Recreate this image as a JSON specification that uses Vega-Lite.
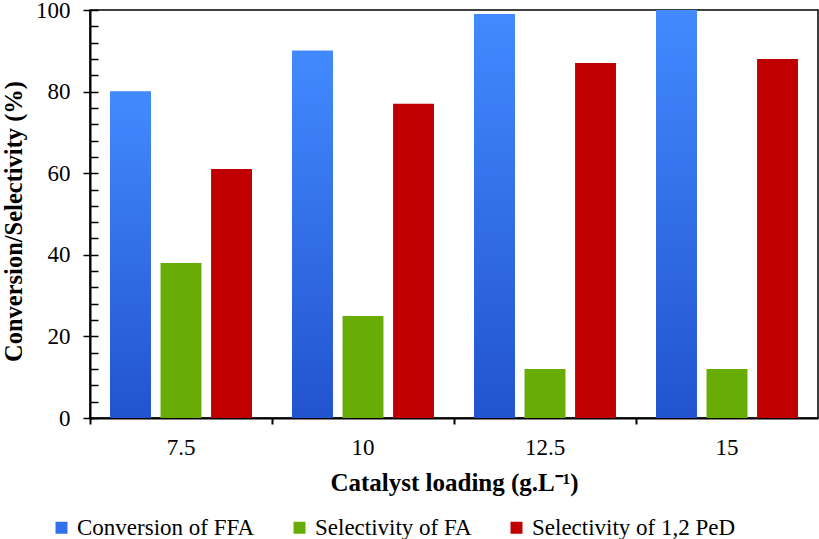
{
  "$schema": "https://vega.github.io/schema/vega-lite/v6.json",
  "width": 728,
  "height": 408,
  "autosize": {"type": "none"},
  "padding": {"left": 90, "top": 10, "right": 1, "bottom": 121},
  "background": "white",
  "config": {
    "font": "Liberation Serif",
    "view": {"stroke": "black", "strokeWidth": 1.5},
    "axis": {"labelFont": "Liberation Serif", "titleFont": "Liberation Serif", "labelColor": "black", "titleColor": "black", "domainColor": "black", "tickColor": "black", "grid": false},
    "legend": {"labelFont": "Liberation Serif"}
  },
  "data": {
    "values": [
      {"loading": "7.5", "series": "Conversion of FFA", "value": 80},
      {"loading": "7.5", "series": "Selectivity of FA", "value": 38},
      {"loading": "7.5", "series": "Selectivity of 1,2 PeD", "value": 61},
      {"loading": "10", "series": "Conversion of FFA", "value": 90},
      {"loading": "10", "series": "Selectivity of FA", "value": 25},
      {"loading": "10", "series": "Selectivity of 1,2 PeD", "value": 77},
      {"loading": "12.5", "series": "Conversion of FFA", "value": 99},
      {"loading": "12.5", "series": "Selectivity of FA", "value": 12},
      {"loading": "12.5", "series": "Selectivity of 1,2 PeD", "value": 87},
      {"loading": "15", "series": "Conversion of FFA", "value": 100},
      {"loading": "15", "series": "Selectivity of FA", "value": 12},
      {"loading": "15", "series": "Selectivity of 1,2 PeD", "value": 88}
    ]
  },
  "layer": [
    {
      "mark": {"type": "bar"},
      "encoding": {
        "x": {
          "field": "loading", "type": "nominal", "sort": null,
          "scale": {"paddingInner": 0, "paddingOuter": 0},
          "axis": {
            "title": "Catalyst loading (g.L⁻¹)", "titleFontSize": 25, "titleFontWeight": "bold", "titlePadding": 11,
            "labelAngle": 0, "labelFontSize": 23, "labelPadding": 12, "labelFontWeight": "normal",
            "bandPosition": 0, "tickSize": 6, "tickWidth": 2, "domainWidth": 2
          }
        },
        "xOffset": {
          "field": "series", "type": "nominal", "sort": null,
          "scale": {"paddingInner": 0.19, "paddingOuter": 0.396}
        },
        "y": {
          "field": "value", "type": "quantitative",
          "scale": {"domain": [0, 100], "nice": false},
          "axis": {
            "orient": "left", "values": [0, 20, 40, 60, 80, 100],
            "title": "Conversion/Selectivity (%)", "titleFontSize": 24.5, "titleFontWeight": "bold",
            "titleX": -69, "titleY": 211, "titleBaseline": "alphabetic", "titleAngle": -90, "titleAlign": "center",
            "labelFontSize": 23, "labelPadding": 13, "tickSize": 7, "tickWidth": 1.5, "domainWidth": 2
          }
        },
        "color": {
          "field": "series", "type": "nominal", "sort": null,
          "scale": {
            "domain": ["Conversion of FFA", "Selectivity of FA", "Selectivity of 1,2 PeD"],
            "range": ["#3371ea", "#67ad05", "#c00000"]
          },
          "legend": {
            "title": null, "orient": "none", "direction": "horizontal",
            "legendX": -40, "legendY": 506,
            "symbolType": "square", "symbolSize": 144, "symbolStrokeWidth": 0,
            "labelFont": "Liberation Serif",
            "labelFontSize": 23, "labelColor": "black", "labelOffset": 4, "columnPadding": 33,
            "labelLimit": 400
          }
        }
      }
    },
    {
      "transform": [{"filter": "datum.series === 'Conversion of FFA'"}],
      "mark": {
        "type": "bar",
        "fill": {
          "gradient": "linear", "x1": 0, "y1": 0, "x2": 0, "y2": 1,
          "stops": [{"offset": 0, "color": "#428aff"}, {"offset": 1, "color": "#2253cf"}]
        }
      },
      "encoding": {
        "x": {
          "field": "loading", "type": "nominal", "sort": null,
          "scale": {"paddingInner": 0, "paddingOuter": 0},
          "axis": {
            "title": "Catalyst loading (g.L⁻¹)", "titleFontSize": 25, "titleFontWeight": "bold", "titlePadding": 11,
            "labelAngle": 0, "labelFontSize": 23, "labelPadding": 12, "labelFontWeight": "normal",
            "bandPosition": 0, "tickSize": 6, "tickWidth": 2, "domainWidth": 2
          }
        },
        "xOffset": {
          "field": "series", "type": "nominal", "sort": null,
          "scale": {"paddingInner": 0.19, "paddingOuter": 0.396}
        },
        "y": {
          "field": "value", "type": "quantitative",
          "scale": {"domain": [0, 100], "nice": false},
          "axis": {
            "orient": "left", "values": [0, 4, 8, 12, 16, 20, 24, 28, 32, 36, 40, 44, 48, 52, 56, 60, 64, 68, 72, 76, 80, 84, 88, 92, 96, 100],
            "title": null, "labels": false, "domain": false, "tickSize": -8, "tickWidth": 1.5
          }
        }
      }
    }
  ],
  "resolve": {"axis": {"y": "independent"}}
}
